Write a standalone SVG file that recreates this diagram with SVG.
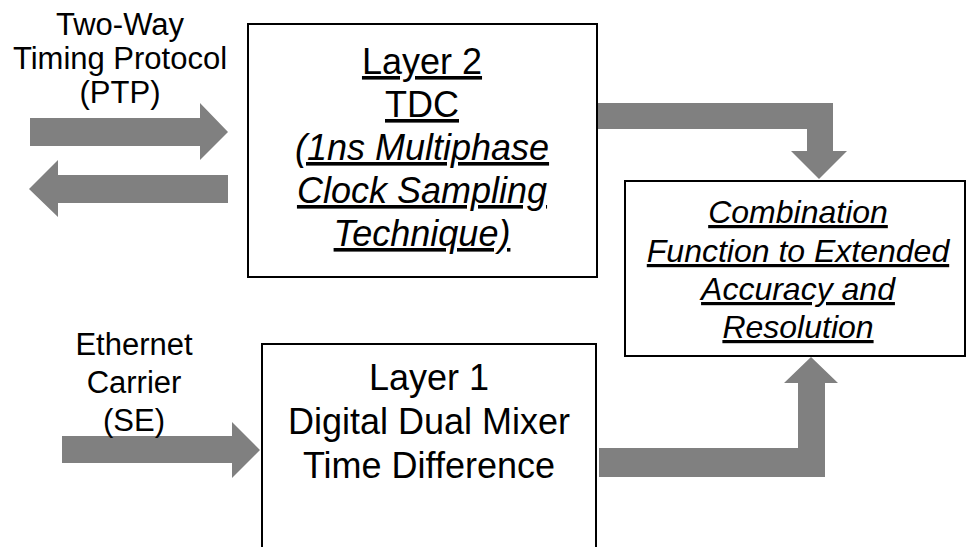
<svg xmlns="http://www.w3.org/2000/svg" width="967" height="547" viewBox="0 0 967 547">
<style>
.box{fill:#fff;stroke:#000;stroke-width:2}
.arr{fill:#808080;stroke:none}
text{font-family:"Liberation Sans",Arial,sans-serif;fill:#000;text-anchor:middle}
.lbl{font-size:31px}
.big{font-size:36px}
.mid{font-size:32px}
.u{text-decoration:underline}
.i{font-style:italic}
</style>
<rect width="967" height="547" fill="#fff"/>
<g id="connectors">
<polygon class="arr" points="30,118 200,118 200,103 228,132 200,160 200,146 30,146"/>
<polygon class="arr" points="228,175 58,175 58,160 29,189 58,217 58,203 228,203"/>
<polygon class="arr" points="62,436 232,436 232,422 260,450 232,478 232,463 62,463"/>
<polygon class="arr" points="596,103 833,103 833,151 847,151 819,179 791,151 807,151 807,129 596,129"/>
<polygon class="arr" points="599,448 798,448 798,383 784,383 811,357 838,383 825,383 825,477 599,477"/>
</g>
<g id="label-ptp">
<text class="lbl" x="120" y="35">Two-Way</text>
<text class="lbl" x="120" y="69">Timing Protocol</text>
<text class="lbl" x="120" y="103">(PTP)</text>
</g>
<g id="label-se">
<text class="lbl" x="134" y="355">Ethernet</text>
<text class="lbl" x="134" y="393">Carrier</text>
<text class="lbl" x="134" y="431">(SE)</text>
</g>
<g id="layer2">
<rect class="box" x="248" y="24" width="349" height="253"/>
<text class="big u" x="422" y="74">Layer 2</text>
<text class="big u" x="422" y="117">TDC</text>
<text class="big u i" x="422" y="160">(1ns Multiphase</text>
<text class="big u i" x="422" y="203">Clock Sampling</text>
<text class="big u i" x="422" y="246">Technique)</text>
</g>
<g id="combination">
<rect class="box" x="625" y="181" width="340" height="175"/>
<text class="mid u i" x="798" y="223">Combination</text>
<text class="mid u i" x="798" y="262">Function to Extended</text>
<text class="mid u i" x="798" y="300">Accuracy and</text>
<text class="mid u i" x="798" y="338">Resolution</text>
</g>
<g id="layer1">
<rect class="box" x="262" y="344" width="334" height="230"/>
<text class="big" x="429" y="390">Layer 1</text>
<text class="big" x="429" y="434">Digital Dual Mixer</text>
<text class="big" x="429" y="478">Time Difference</text>
</g>
</svg>
